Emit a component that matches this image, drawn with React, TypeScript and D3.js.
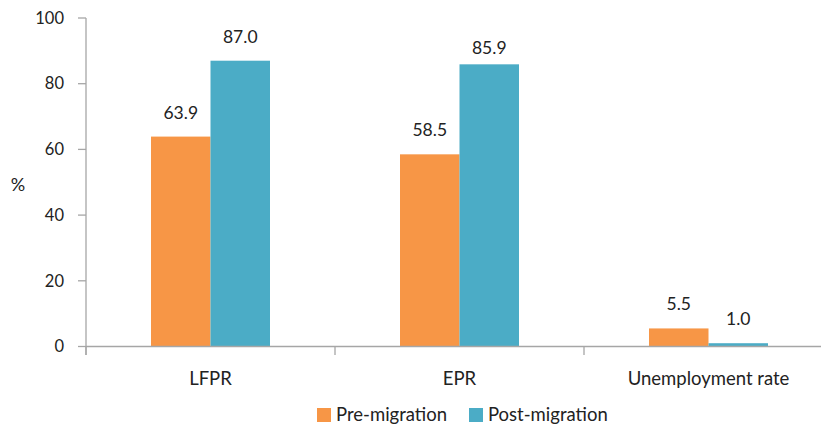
import React from "react";
import * as d3 from "d3";

const categories = ["LFPR", "EPR", "Unemployment rate"];
const seriesNames = ["Pre-migration", "Post-migration"];
const preMigration = [63.9, 58.5, 5.5];
const postMigration = [87.0, 85.9, 1.0];
const yTicks = [0, 20, 40, 60, 80, 100];

const W = 821;
const H = 427;
const colors = ["#F79646", "#4BACC6"];
const FONT = "Lato, 'Open Sans', sans-serif";

export default function App() {
  const x = d3.scaleBand<string>().domain(categories).range([86, 833]).paddingInner(0).paddingOuter(0);
  const y = d3.scaleLinear().domain([0, 100]).range([346.5, 18]);
  const barW = 59.5;
  const values = [preMigration, postMigration];

  // small per-label vertical nudges so labels sit like the original layout
  const labelGap = (si: number, ci: number) => (si === 1 && ci === 1 ? 10 : 18);

  return (
    <svg width={W} height={H} style={{ position: "absolute", left: 0, top: 0, background: "#fff" }}>
      {/* y axis */}
      <line x1={86} x2={86} y1={18} y2={355} stroke="#A6A6A6" strokeWidth={1.3} />
      {yTicks.map((t) => (
        <g key={t}>
          <line x1={78} x2={86} y1={y(t)} y2={y(t)} stroke="#A6A6A6" strokeWidth={1.3} />
          <text x={64} y={y(t)} dy="0.35em" textAnchor="end" fontFamily={FONT} fontSize={16.5} fill="#222">
            {t}
          </text>
        </g>
      ))}
      <text x={18} y={185} dy="0.35em" textAnchor="middle" fontFamily={FONT} fontSize={18} fill="#222">%</text>

      {/* bars */}
      {categories.map((c, ci) => {
        const cx = (x(c) as number) + x.bandwidth() / 2;
        return values.map((vals, si) => {
          const v = vals[ci];
          const bx = si === 0 ? cx - barW : cx;
          return (
            <g key={c + si}>
              <rect x={bx} y={y(v)} width={barW} height={y(0) - y(v)} fill={colors[si]} />
              <text x={bx + barW / 2} y={y(v) - labelGap(si, ci)} textAnchor="middle" fontFamily={FONT} fontSize={17.5} fill="#222">
                {v.toFixed(1)}
              </text>
            </g>
          );
        });
      })}

      {/* x axis */}
      <line x1={86} x2={W} y1={y(0)} y2={y(0)} stroke="#A6A6A6" strokeWidth={1.3} />
      {categories.map((c) => (
        <line key={c} x1={x(c) as number} x2={x(c) as number} y1={y(0)} y2={355} stroke="#A6A6A6" strokeWidth={1.3} />
      ))}
      {categories.map((c) => (
        <text key={c} x={(x(c) as number) + x.bandwidth() / 2} y={385} textAnchor="middle" fontFamily={FONT} fontSize={18.5} fill="#222">
          {c}
        </text>
      ))}

      {/* legend */}
      {seriesNames.map((s, i) => {
        const lx = i === 0 ? 317 : 469;
        return (
          <g key={s}>
            <rect x={lx} y={408} width={14} height={14} fill={colors[i]} />
            <text x={lx + 19} y={421} fontFamily={FONT} fontSize={18.5} fill="#222">{s}</text>
          </g>
        );
      })}
    </svg>
  );
}
